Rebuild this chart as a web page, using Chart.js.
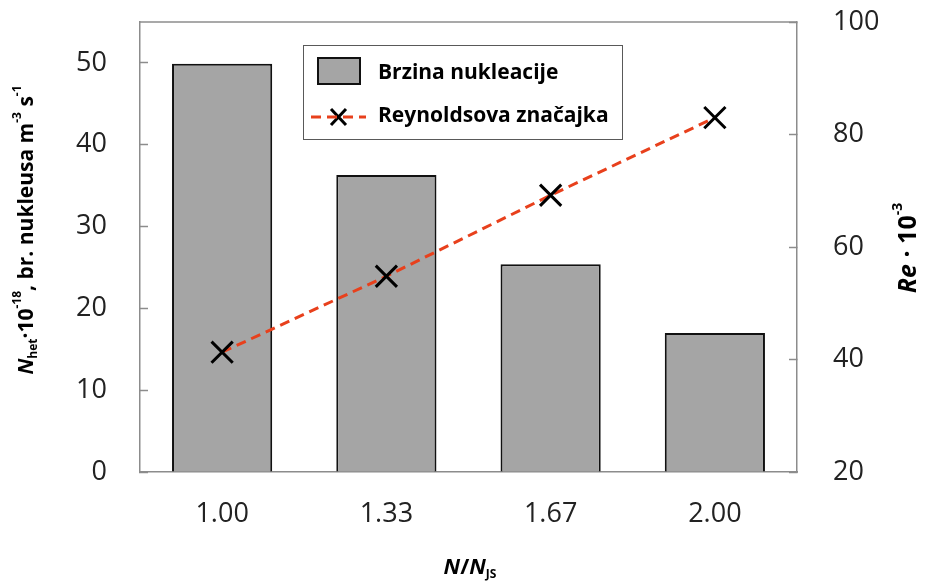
<!DOCTYPE html>
<html>
<head>
<meta charset="utf-8">
<script src="https://cdn.jsdelivr.net/npm/chart.js@4.4.0/dist/chart.umd.min.js"></script>
<style>
  html, body { margin: 0; padding: 0; background: #fff; }
  #wrap { width: 925px; height: 587px; }
</style>
</head>
<body>
<div id="wrap"><canvas id="myChart"></canvas></div>
<script>
// podaci
const categories = ['1.00', '1.33', '1.67', '2.00'];
const nucleationRate = [49.9, 36.3, 25.4, 17.0];
const reynolds = [41.3, 54.8, 69.2, 83.0];
const leftTicks = [0, 10, 20, 30, 40, 50];
const rightTicks = [20, 40, 60, 80, 100];

const FONT = "'Open Sans', 'Liberation Sans', sans-serif";

// crta tekst iz dijelova (obični, sup, sub)
function richText(ctx, parts, x, y, angle, size) {
  ctx.save();
  ctx.translate(x, y);
  ctx.rotate(angle);
  const fontOf = p => {
    const s = p.pos ? Math.round(size * 0.55) : size;
    return (p.italic ? 'italic ' : '') + 'bold ' + s + 'px ' + FONT;
  };
  let total = 0;
  parts.forEach(p => { ctx.font = fontOf(p); total += ctx.measureText(p.t).width; });
  let cx = -total / 2;
  ctx.fillStyle = '#000';
  ctx.textBaseline = 'middle';
  parts.forEach(p => {
    ctx.font = fontOf(p);
    let dy = 0;
    if (p.pos === 'sup') dy = -size * 0.45;
    if (p.pos === 'sub') dy = size * 0.3;
    ctx.fillText(p.t, cx, dy);
    cx += ctx.measureText(p.t).width;
  });
  ctx.restore();
}

const titlesAndLegend = {
  id: 'titlesAndLegend',
  afterDraw(chart) {
    const ctx = chart.ctx;
    richText(ctx, [
      { t: 'N', italic: true }, { t: 'het', pos: 'sub' },
      { t: '·10' }, { t: '-18', pos: 'sup' },
      { t: ', br. nukleusa m' }, { t: '-3', pos: 'sup' },
      { t: ' s' }, { t: '-1', pos: 'sup' }
    ], 27, 230, -Math.PI / 2, 21);
    richText(ctx, [
      { t: 'Re', italic: true }, { t: ' · 10' }, { t: '-3', pos: 'sup' }
    ], 909, 248, -Math.PI / 2, 25);
    richText(ctx, [
      { t: 'N', italic: true }, { t: '/' }, { t: 'N', italic: true }, { t: 'JS', pos: 'sub' }
    ], 470, 568, 0, 22);

    // legenda
    const bars = chart.data.datasets.find(d => d.type === 'bar');
    const line = chart.data.datasets.find(d => d.type === 'line');
    const lx = 303, ly = 45, lw = 319, lh = 94;
    ctx.save();
    ctx.fillStyle = '#fff';
    ctx.fillRect(lx, ly, lw, lh);
    ctx.strokeStyle = '#595959';
    ctx.lineWidth = 1;
    ctx.strokeRect(lx + 0.5, ly + 0.5, lw, lh);
    ctx.fillStyle = bars.backgroundColor;
    ctx.fillRect(318, 58, 42, 26);
    ctx.strokeStyle = '#111';
    ctx.lineWidth = 2;
    ctx.strokeRect(318, 58, 42, 26);
    ctx.strokeStyle = '#000';
    ctx.lineWidth = 3;
    ctx.beginPath();
    ctx.moveTo(331, 109); ctx.lineTo(346, 125);
    ctx.moveTo(346, 109); ctx.lineTo(331, 125);
    ctx.stroke();
    ctx.strokeStyle = line.borderColor;
    ctx.lineWidth = 3;
    ctx.setLineDash([10, 6]);
    ctx.beginPath(); ctx.moveTo(311, 117); ctx.lineTo(366, 117); ctx.stroke();
    ctx.setLineDash([]);
    ctx.fillStyle = '#000';
    ctx.font = 'bold 21px ' + FONT;
    ctx.textBaseline = 'middle';
    ctx.fillText(bars.label, 378, 73);
    ctx.fillText(line.label, 378, 116);
    ctx.restore();
  }
};

// gornja linija okvira
const framePlugin = {
  id: 'frame',
  beforeDatasetsDraw(c) {
    const a = c.chartArea;
    c.ctx.save();
    c.ctx.strokeStyle = '#8C8C8C';
    c.ctx.lineWidth = 1.5;
    c.ctx.beginPath(); c.ctx.moveTo(a.left, a.top); c.ctx.lineTo(a.right, a.top); c.ctx.stroke();
    c.ctx.restore();
  }
};

const tickFont = { family: FONT, size: 27 };

// fiksna širina osi, bez dodatnog razmaka gore/dolje
function fixWidth(w) {
  return s => { s.width = w; s.paddingTop = 0; s.paddingBottom = 0; };
}

const ctx = document.getElementById('myChart').getContext('2d');
const chart = new Chart(ctx, {
  data: {
    labels: categories,
    datasets: [
      {
        type: 'line',
        label: 'Reynoldsova značajka',
        data: reynolds,
        yAxisID: 'y1',
        borderColor: '#E8401C',
        borderWidth: 3,
        borderDash: [10, 6],
        pointStyle: 'crossRot',
        pointRadius: 15,
        pointBorderColor: '#000',
        pointBorderWidth: 3,
        pointBackgroundColor: '#000',
        order: 0
      },
      {
        type: 'bar',
        label: 'Brzina nukleacije',
        data: nucleationRate,
        yAxisID: 'y',
        backgroundColor: '#A5A5A5',
        borderColor: '#111',
        borderWidth: 2,
        barPercentage: 0.61,
        categoryPercentage: 1,
        order: 1
      }
    ]
  },
  options: {
    responsive: true,
    maintainAspectRatio: false,
    animation: false,
    layout: { autoPadding: false, padding: { top: 22, left: 0, right: 0, bottom: 0 } },
    plugins: { legend: { display: false }, tooltip: { enabled: false } },
    scales: {
      x: {
        grid: { display: false, drawTicks: false },
        border: { color: '#8C8C8C', width: 1.5 },
        ticks: { color: '#222', font: tickFont, padding: 26 },
        afterFit: s => { s.height = 115; s.paddingLeft = 0; s.paddingRight = 0; }
      },
      y: {
        position: 'left',
        min: 0, max: 55,
        afterBuildTicks: s => { s.ticks = leftTicks.map(v => ({ value: v })); },
        grid: { display: true, drawOnChartArea: false, tickLength: -8, color: '#8C8C8C', tickWidth: 1.5 },
        border: { color: '#8C8C8C', width: 1.5 },
        ticks: { color: '#222', font: tickFont, padding: 41 },
        afterFit: fixWidth(140)
      },
      y1: {
        position: 'right',
        min: 20, max: 100,
        afterBuildTicks: s => { s.ticks = rightTicks.map(v => ({ value: v })); },
        grid: { display: true, drawOnChartArea: false, tickLength: -8, color: '#8C8C8C', tickWidth: 1.5 },
        border: { color: '#8C8C8C', width: 1.5 },
        ticks: { color: '#222', font: tickFont, padding: 44 },
        afterFit: fixWidth(128)
      }
    }
  },
  plugins: [framePlugin, titlesAndLegend]
});
</script>
</body>
</html>
